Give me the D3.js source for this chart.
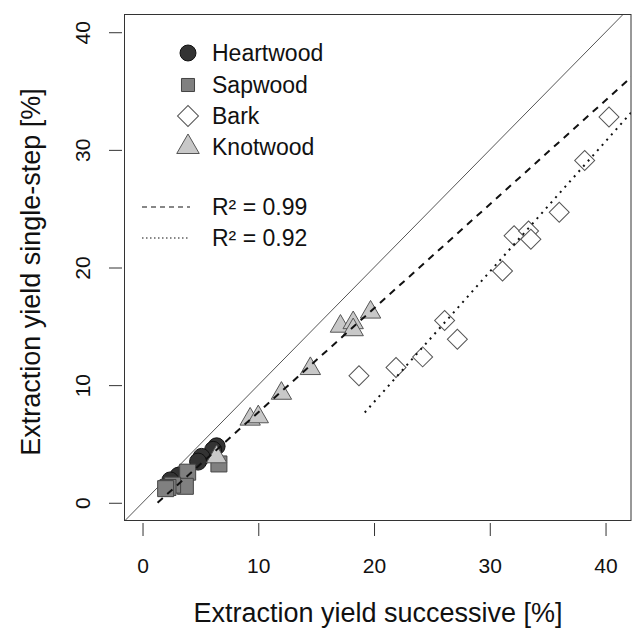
<html>
<head>
<script src="https://d3js.org/d3.v7.min.js"></script>
<style>
body { margin: 0; background: #fff; }
text { font-family: 'Liberation Sans', Arial, sans-serif; fill: #111; }
</style>
</head>
<body>
<div id="plot"></div>
<script>

var width = 632;
var height = 634;

// values: [successive, single-step]
var heartwood = [[6.4, 4.8], [6.1, 4.5], [5.1, 3.9], [4.8, 3.5], [3.1, 2.3], [2.4, 1.9]];
var sapwood = [[6.6, 3.3], [3.9, 2.6], [3.7, 1.4], [2.6, 1.5], [2.2, 1.3], [2.0, 1.2]];
var bark = [[18.7, 10.8], [21.9, 11.5], [24.2, 12.4], [26.1, 15.5], [27.2, 13.9], [31.1, 19.7],
	[32.1, 22.7], [33.35, 23.1], [33.55, 22.4], [36.0, 24.7], [38.2, 29.1], [40.3, 32.8]];
var knotwood = [[6.4, 3.9], [9.3, 7.1], [10.0, 7.3], [12.0, 9.3], [14.5, 11.4],
	[17.1, 15.0], [18.2, 15.3], [18.2, 14.7], [19.7, 16.2]];

// fitted lines: slope, intercept, first x
var fitAll = [0.884, -1.15, 1.3];
var fitBark = [1.108, -13.6, 19.2];

var ticks = [0, 10, 20, 30, 40];
var seriesNames = ["Heartwood", "Sapwood", "Bark", "Knotwood"];
var fitLabels = ["R\u00b2 = 0.99", "R\u00b2 = 0.92"];

var svg = d3.select("#plot").append("svg").attr("width", width).attr("height", height);

var xScale = d3.scaleLinear().domain([-1.6, 42.2]).range([124, 631]);
var yScale = d3.scaleLinear().domain([-1.55, 41.55]).range([521, 14]);

svg.append("clipPath").attr("id", "box")
.append("rect")
.attr("x", 124).attr("y", 14).attr("width", 507).attr("height", 507);

// axes, ticks only
var xAxis = svg.append("g")
.attr("transform", "translate(0,523)")
.call(d3.axisBottom(xScale).tickValues(ticks).tickSize(13).tickPadding(22));
var yAxis = svg.append("g")
.attr("transform", "translate(122,0)")
.call(d3.axisLeft(yScale).tickValues(ticks).tickSize(13).tickPadding(0));

xAxis.select(".domain").remove();
yAxis.select(".domain").remove();
svg.selectAll(".tick line").attr("stroke", "#333");
xAxis.selectAll("text").style("font-size", "21px").attr("fill", "#111");
yAxis.selectAll("text")
.style("font-size", "21px").attr("fill", "#111")
.attr("text-anchor", "middle")
.attr("transform", "translate(-39,0) rotate(-90)")
.attr("x", 0).attr("dy", "0.35em");

svg.append("text")
.attr("x", 378).attr("y", 622)
.attr("text-anchor", "middle")
.style("font-size", "27px")
.text("Extraction yield successive [%]");

svg.append("text")
.attr("transform", "translate(40,272) rotate(-90)")
.attr("text-anchor", "middle")
.style("font-size", "27px")
.text("Extraction yield single-step [%]");

var plot = svg.append("g").attr("clip-path", "url(#box)");

// 1:1 line
plot.append("line")
.attr("x1", xScale(-1.6)).attr("y1", yScale(-1.6))
.attr("x2", xScale(42.2)).attr("y2", yScale(42.2))
.attr("stroke", "#555").attr("stroke-width", 1);

var styles = [
	{ data: heartwood, shape: d3.symbolCircle, size: 227, fill: "#333", stroke: "#111", rot: 0 },
	{ data: sapwood, shape: d3.symbolSquare, size: 256, fill: "#808080", stroke: "#444", rot: 0 },
	{ data: bark, shape: d3.symbolSquare, size: 200, fill: "#fff", stroke: "#555", rot: 45 },
	{ data: knotwood, shape: d3.symbolTriangle, size: 180, fill: "#c8c8c8", stroke: "#555", rot: 0 }
];

styles.forEach(function (s) {
	plot.selectAll(null).data(s.data)
	.enter().append("path")
	.attr("d", d3.symbol().type(s.shape).size(s.size))
	.attr("transform", function (d) {
		return "translate(" + xScale(d[0]) + "," + yScale(d[1]) + ") rotate(" + s.rot + ")";
	})
	.attr("fill", s.fill)
	.attr("stroke", s.stroke)
	.attr("stroke-width", 1);
});

function fitLine(f, dash, w) {
	plot.append("line")
	.attr("x1", xScale(f[2])).attr("y1", yScale(f[0] * f[2] + f[1]))
	.attr("x2", xScale(43)).attr("y2", yScale(f[0] * 43 + f[1]))
	.attr("stroke", "#111")
	.attr("stroke-width", w)
	.attr("stroke-dasharray", dash);
}
fitLine(fitAll, "7,6", 2);
fitLine(fitBark, "2,5", 2);

// legend
var legendY = [53, 85, 116, 147];
var legendSizes = [200, 170, 220, 220];
styles.forEach(function (s, i) {
	svg.append("path")
	.attr("d", d3.symbol().type(s.shape).size(legendSizes[i]))
	.attr("transform", "translate(188," + legendY[i] + ") rotate(" + s.rot + ")")
	.attr("fill", s.fill)
	.attr("stroke", s.stroke)
	.attr("stroke-width", 1);
	svg.append("text")
	.attr("x", 212).attr("y", legendY[i])
	.attr("dy", "0.36em")
	.style("font-size", "23px")
	.text(seriesNames[i]);
});

var fitY = [207, 238];
var fitDash = ["5,4", "1.5,2.5"];
fitLabels.forEach(function (t, i) {
	svg.append("line")
	.attr("x1", 142).attr("x2", 190)
	.attr("y1", fitY[i]).attr("y2", fitY[i])
	.attr("stroke", "#111").attr("stroke-width", 1.2)
	.attr("stroke-dasharray", fitDash[i]);
	svg.append("text")
	.attr("x", 212).attr("y", fitY[i])
	.attr("dy", "0.36em")
	.style("font-size", "23px")
	.text(t);
});

// box
svg.append("rect")
.attr("x", 124.5).attr("y", 14.5).attr("width", 506.5).attr("height", 506)
.attr("fill", "none").attr("stroke", "#333").attr("stroke-width", 1);

</script>
</body>
</html>
